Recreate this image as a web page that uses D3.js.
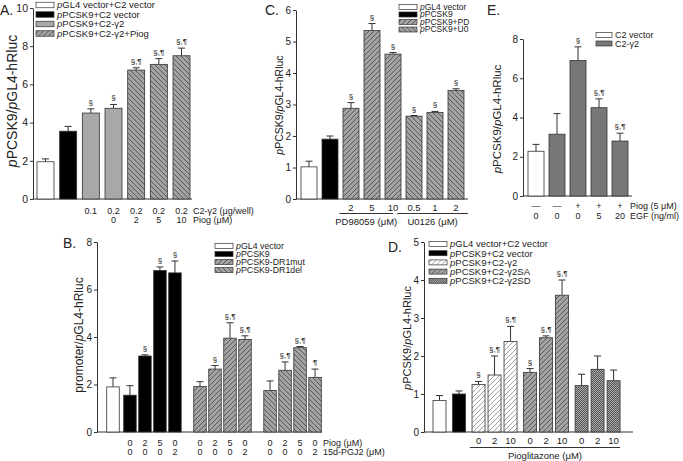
<!DOCTYPE html>
<html>
<head>
<meta charset="utf-8">
<script src="https://cdn.jsdelivr.net/npm/d3@7"></script>
<style>
body { margin: 0; background: #fff; }
svg { display: block; font-family: "Liberation Sans", Arial, sans-serif; }
</style>
</head>
<body>
<script>
// ---- panel A ----
var aValues = [1.95, 3.55, 4.5, 4.75, 6.75, 7.05, 7.5];
var aErrors = [0.15, 0.25, 0.22, 0.2, 0.12, 0.3, 0.4];
var aGroups = [0, 1, 2, 2, 3, 3, 3];
var aSig = ["", "", "§", "§", "§,¶", "§,¶", "§,¶"];
var aRow1 = ["", "", "0.1", "0.2", "0.2", "0.2", "0.2"];
var aRow2 = ["", "", "", "0", "2", "5", "10"];
var aRowNames = ["C2-γ2 (μg/well)", "Piog (μM)"];
var aLegend = ["pGL4 vector+C2 vector", "pPCSK9+C2 vector", "pPCSK9+C2-γ2", "pPCSK9+C2-γ2+Piog"];

// ---- panel B ----
var bValues = [1.9, 1.55, 3.2, 6.8, 6.7, 1.92, 2.65, 3.95, 3.9, 1.75, 2.6, 3.55, 2.3];
var bErrors = [0.38, 0.4, 0.05, 0.15, 0.5, 0.2, 0.15, 0.65, 0.15, 0.4, 0.35, 0.05, 0.35];
var bGroups = [0, 1, 1, 1, 1, 2, 2, 2, 2, 3, 3, 3, 3];
var bSig = ["", "", "§", "§", "§", "", "§", "§,¶", "§,¶", "", "§,¶", "§,¶", "¶"];
var bRow1 = ["", "0", "2", "5", "0", "0", "2", "5", "0", "0", "2", "5", "0"];
var bRow2 = ["", "0", "0", "0", "2", "0", "0", "0", "2", "0", "0", "0", "2"];
var bRowNames = ["Piog (μM)", "15d-PGJ2 (μM)"];
var bLegend = ["pGL4 vector", "pPCSK9", "pPCSK9-DR1mut", "pPCSK9-DR1del"];

// ---- panel C ----
var cValues = [1.02, 1.9, 2.88, 5.35, 4.6, 2.63, 2.75, 3.45];
var cErrors = [0.18, 0.1, 0.18, 0.22, 0.05, 0.02, 0.03, 0.05];
var cGroups = [0, 1, 2, 2, 2, 3, 3, 3];
var cSig = ["", "", "§", "§", "§", "§", "§", "§"];
var cRow1 = ["", "", "2", "5", "10", "0.5", "1", "2"];
var cGroupNames = ["PD98059 (μM)", "U0126 (μM)"];
var cLegend = ["pGL4 vector", "pPCSK9", "pPCSK9+PD", "pPCSK9+U0"];

// ---- panel D ----
var dValues = [0.83, 1.0, 1.25, 1.5, 2.38, 1.57, 2.48, 3.6, 1.22, 1.65, 1.35];
var dErrors = [0.13, 0.08, 0.08, 0.5, 0.4, 0.1, 0.05, 0.4, 0.3, 0.35, 0.28];
var dGroups = [0, 1, 2, 2, 2, 3, 3, 3, 4, 4, 4];
var dSig = ["", "", "§", "§,¶", "§,¶", "§", "§,¶", "§,¶", "", "", ""];
var dRow1 = ["", "", "0", "2", "10", "0", "2", "10", "0", "2", "10"];
var dGroupNames = ["Pioglitazone (μM)"];
var dLegend = ["pGL4 vector+C2 vector", "pPCSK9+C2 vector", "pPCSK9+C2-γ2", "pPCSK9+C2-γ2SA", "pPCSK9+C2-γ2SD"];

// ---- panel E ----
var eValues = [2.28, 3.15, 6.9, 4.5, 2.8];
var eErrors = [0.35, 1.05, 0.7, 0.45, 0.4];
var eGroups = [0, 1, 1, 1, 1];
var eSig = ["", "", "§", "§,¶", "§,¶"];
var eRow1 = ["—", "—", "+", "+", "+"];
var eRow2 = ["0", "0", "0", "5", "20"];
var eRowNames = ["Piog (5 μM)", "EGF (ng/ml)"];
var eLegend = ["C2 vector", "C2-γ2"];

var svg = d3.select("body").append("svg")
    .attr("width", 683)
    .attr("height", 461);

// hatch patterns
var defs = svg.append("defs");
function hatch(id, bg, dir, line)
{
    var p = defs.append("pattern")
        .attr("id", id)
        .attr("patternUnits", "userSpaceOnUse")
        .attr("width", 5).attr("height", 5);
    p.append("rect").attr("width", 5).attr("height", 5).attr("fill", bg);
    p.append("path")
        .attr("d", dir == "fwd" ? "M0,5L5,0M-1,1L1,-1M4,6L6,4" : "M0,0L5,5M-1,4L1,6M4,-1L6,1")
        .attr("stroke", line).attr("stroke-width", 0.7);
}
hatch("fwd", "#a3a3a3", "fwd", "#3a3a3a");
hatch("back", "#a3a3a3", "back", "#3a3a3a");
hatch("fwdW", "#ffffff", "fwd", "#777");
var chk = defs.append("pattern")
    .attr("id", "check")
    .attr("patternUnits", "userSpaceOnUse")
    .attr("width", 2).attr("height", 2);
chk.append("rect").attr("width", 2).attr("height", 2).attr("fill", "#555");
chk.append("rect").attr("width", 1).attr("height", 1).attr("fill", "#aaa");
chk.append("rect").attr("x", 1).attr("y", 1).attr("width", 1).attr("height", 1).attr("fill", "#aaa");

var fills = {
    white: "#fff", black: "#000", gray: "#a8a8a8", dark: "#777",
    fwd: "url(#fwd)", back: "url(#back)", fwdW: "url(#fwdW)", check: "url(#check)"
};

// italic "p" before plasmid names
function rich(sel, str)
{
    str.split(/(p(?=[A-Z]))/).forEach(function(s) {
        if (s == "") return;
        sel.append("tspan").attr("font-style", s == "p" ? "italic" : null).text(s);
    });
}

function draw_panel(c)
{
    var g = svg.append("g");
    var y = d3.scaleLinear().domain(c.yDomain).range(c.yRange);
    var x = d3.scaleLinear().domain([0, 1]).range([c.first, c.first + c.spacing]);

    // slot index of each bar with extra gaps between groups
    var slots = [], s = 0;
    c.groups.forEach(function(gr, i) {
        if (i > 0 && gr != c.groups[i - 1]) s += c.gapAt[gr - 1] || 0;
        slots.push(s + i);
    });

    var data = c.values.map(function(v, i) {
        return {v: v, e: c.errors[i], fill: c.styles[c.groups[i]], sig: c.sig[i], cx: x(slots[i])};
    });

    // y axis
    var yAxis = d3.axisLeft(y)
        .tickValues(d3.range(c.yDomain[0], c.yDomain[1] + 0.001, c.tickStep))
        .tickFormat(d3.format("d"))
        .tickSize(3).tickSizeOuter(0).tickPadding(2);
    var ax = g.append("g")
        .attr("transform", "translate(" + c.axisX + ",0)")
        .call(yAxis);
    ax.selectAll("text").attr("font-size", c.tickFont).attr("font-family", null).attr("fill", "#222");
    ax.selectAll("line,path").attr("stroke", "#333");

    // x baseline
    g.append("line")
        .attr("x1", c.axisX).attr("x2", c.axisEnd)
        .attr("y1", y(0)).attr("y2", y(0))
        .attr("stroke", "#333");

    // error bars (upper whisker only)
    g.selectAll(".err").data(data).enter().append("path")
        .attr("d", function(d) {
            return "M" + d.cx + "," + y(d.v) + "V" + y(d.v + d.e) +
                "M" + (d.cx - 3.5) + "," + y(d.v + d.e) + "H" + (d.cx + 3.5);
        })
        .attr("stroke", "#333").attr("fill", "none").attr("stroke-width", 1);

    g.selectAll(".bar").data(data).enter().append("rect")
        .attr("x", function(d) { return d.cx - c.barW / 2; })
        .attr("width", c.barW)
        .attr("y", function(d) { return y(d.v); })
        .attr("height", function(d) { return y(0) - y(d.v); })
        .attr("fill", function(d) { return fills[d.fill]; })
        .attr("stroke", "#333").attr("stroke-width", 0.8);

    g.selectAll(".sig").data(data).enter().append("text")
        .attr("x", function(d) { return d.cx; })
        .attr("y", function(d) { return y(d.v + d.e) - 4; })
        .attr("text-anchor", "middle")
        .attr("font-size", 8).attr("fill", "#222")
        .text(function(d) { return d.sig; });

    // rows of condition labels under the bars
    c.rows.forEach(function(row, r) {
        g.selectAll(".row" + r).data(row).enter().append("text")
            .attr("x", function(d, i) { return data[i].cx; })
            .attr("y", c.rowY[r])
            .attr("text-anchor", "middle")
            .attr("font-size", c.rowFont).attr("fill", "#222")
            .text(function(d) { return d; });
        if (c.rowNames)
            g.append("text")
                .attr("x", c.rowNameX).attr("y", c.rowY[r])
                .attr("font-size", c.rowFont).attr("fill", "#222")
                .text(c.rowNames[r]);
    });

    // underlined groups
    if (c.groupNames) c.groupNames.forEach(function(name, k) {
        var sp = c.groupSpan[k];
        g.append("line")
            .attr("x1", x(sp[0])).attr("x2", x(sp[1]))
            .attr("y1", c.groupLineY).attr("y2", c.groupLineY)
            .attr("stroke", "#333");
        g.append("text")
            .attr("x", (x(sp[0]) + x(sp[1])) / 2).attr("y", c.groupLineY + c.groupTextDy)
            .attr("text-anchor", "middle")
            .attr("font-size", c.rowFont).attr("fill", "#222")
            .text(name);
    });

    // y label
    var yl = g.append("text")
        .attr("transform", "translate(" + c.yLabelX + "," + c.yLabelY + ") rotate(-90)")
        .attr("text-anchor", "middle")
        .attr("font-size", c.yLabelSize).attr("fill", "#222");
    rich(yl, c.yLabel);

    // panel letter
    g.append("text")
        .attr("x", c.labelX).attr("y", c.labelY)
        .attr("font-size", 14).attr("fill", "#222")
        .text(c.label);

    // legend
    var lg = g.selectAll(".leg").data(c.legend).enter().append("g")
        .attr("transform", function(d, i) {
            return "translate(" + c.legendX + "," + (c.legendY + i * c.legendStep) + ")";
        });
    lg.append("rect")
        .attr("y", -c.swH / 2).attr("width", c.swW).attr("height", c.swH)
        .attr("fill", function(d, i) { return fills[c.legendStyles[i]]; })
        .attr("stroke", "#333").attr("stroke-width", 0.7);
    lg.append("text")
        .attr("x", c.swW + 3).attr("dy", "0.35em")
        .attr("font-size", c.legendFont).attr("fill", "#222")
        .each(function(d) { rich(d3.select(this), d); });
}

draw_panel({
    label: "A.", labelX: 0, labelY: 15,
    values: aValues, errors: aErrors, groups: aGroups, sig: aSig,
    styles: ["white", "black", "gray", "back"],
    rows: [aRow1, aRow2], rowNames: aRowNames, rowY: [214, 223], rowNameX: 193, rowFont: 9,
    yDomain: [0, 10], yRange: [199, 8], tickStep: 2, tickFont: 10.5,
    axisX: 33, axisEnd: 192, first: 45.5, spacing: 22.67, barW: 17, gapAt: [],
    yLabel: "pPCSK9/pGL4-hRluc", yLabelX: 17, yLabelY: 101, yLabelSize: 14,
    legend: aLegend, legendStyles: ["white", "black", "gray", "fwd"],
    legendX: 36, legendY: 5, legendStep: 9.5, swW: 18, swH: 5.5, legendFont: 9.5
});

draw_panel({
    label: "B.", labelX: 63, labelY: 248,
    values: bValues, errors: bErrors, groups: bGroups, sig: bSig,
    styles: ["white", "black", "fwd", "back"],
    rows: [bRow1, bRow2], rowNames: bRowNames, rowY: [445.5, 454.5], rowNameX: 323, rowFont: 9,
    yDomain: [0, 8], yRange: [432, 242], tickStep: 2, tickFont: 10,
    axisX: 97, axisEnd: 322, first: 113, spacing: 15, barW: 12.5, gapAt: [0.13, 0.67, 0.67],
    yLabel: "promoter/pGL4-hRluc", yLabelX: 83, yLabelY: 335, yLabelSize: 12,
    legend: bLegend, legendStyles: ["white", "black", "fwd", "back"],
    legendX: 215, legendY: 246, legendStep: 8, swW: 18, swH: 5, legendFont: 8.8
});

draw_panel({
    label: "C.", labelX: 265, labelY: 15,
    values: cValues, errors: cErrors, groups: cGroups, sig: cSig,
    styles: ["white", "black", "fwd", "back"],
    rows: [cRow1], rowY: [210.5], rowFont: 9.5,
    groupNames: cGroupNames, groupSpan: [[1.45, 4], [4.2, 7.57]], groupLineY: 213.5, groupTextDy: 11.5,
    yDomain: [0, 6], yRange: [199, 10], tickStep: 1, tickFont: 10,
    axisX: 296, axisEnd: 468, first: 309, spacing: 21, barW: 16, gapAt: [],
    yLabel: "pPCSK9/pGL4-hRluc", yLabelX: 283, yLabelY: 105, yLabelSize: 10.5,
    legend: cLegend, legendStyles: ["white", "black", "fwd", "back"],
    legendX: 399, legendY: 7, legendStep: 7.5, swW: 18, swH: 5, legendFont: 8.5
});

draw_panel({
    label: "D.", labelX: 388, labelY: 252,
    values: dValues, errors: dErrors, groups: dGroups, sig: dSig,
    styles: ["white", "black", "fwdW", "fwd", "check"],
    rows: [dRow1], rowY: [444], rowFont: 9.5,
    groupNames: dGroupNames, groupSpan: [[1.9, 11.28]], groupLineY: 447.5, groupTextDy: 11.5,
    yDomain: [0, 5], yRange: [432, 242], tickStep: 1, tickFont: 10,
    axisX: 424, axisEnd: 633, first: 439.5, spacing: 16, barW: 13, gapAt: [0.22, 0.22, 0.22, 0.22],
    yLabel: "pPCSK9/pGL4-hRluc", yLabelX: 411, yLabelY: 338, yLabelSize: 11,
    legend: dLegend, legendStyles: ["white", "black", "fwdW", "fwd", "check"],
    legendX: 429, legendY: 244, legendStep: 9.2, swW: 18, swH: 5, legendFont: 9.5
});

draw_panel({
    label: "E.", labelX: 487, labelY: 15,
    values: eValues, errors: eErrors, groups: eGroups, sig: eSig,
    styles: ["white", "dark"],
    rows: [eRow1, eRow2], rowNames: eRowNames, rowY: [209, 219], rowNameX: 630, rowFont: 9,
    yDomain: [0, 8], yRange: [196, 39], tickStep: 2, tickFont: 10,
    axisX: 523, axisEnd: 632, first: 536, spacing: 21, barW: 16, gapAt: [],
    yLabel: "pPCSK9/pGL4-hRluc", yLabelX: 501, yLabelY: 119, yLabelSize: 11.5,
    legend: eLegend, legendStyles: ["white", "dark"],
    legendX: 596, legendY: 35, legendStep: 8.5, swW: 16, swH: 5, legendFont: 9
});
</script>
</body>
</html>
